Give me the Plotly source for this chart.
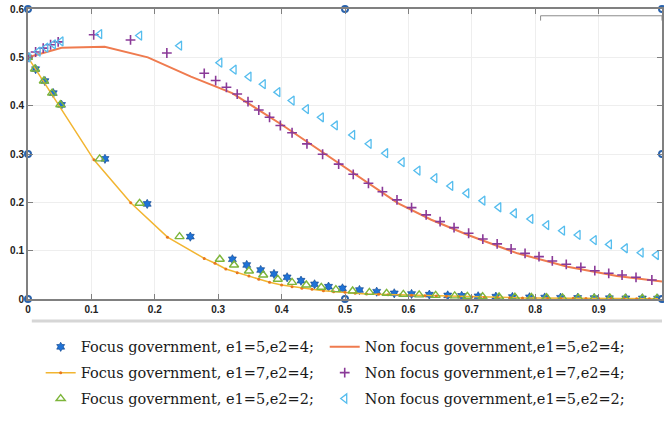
import plotly.graph_objects as go

# ---- data -------------------------------------------------------------
focus_54_x = [0, 0.012, 0.0267, 0.0398, 0.0529, 0.1214, 0.188, 0.256,
              0.3224, 0.345, 0.367, 0.388, 0.4087, 0.4306, 0.452, 0.474, 0.496, 0.5228,
              0.55, 0.5777, 0.605, 0.633, 0.662, 0.684, 0.710, 0.738, 0.764, 0.791,
              0.815, 0.840, 0.867, 0.893, 0.917, 0.943, 0.969, 0.993]
focus_54_y = [0.5, 0.4756, 0.451, 0.426, 0.4017, 0.29, 0.1967, 0.129,
              0.0822, 0.0704, 0.060, 0.0518, 0.0449, 0.0379, 0.0304, 0.0255, 0.022, 0.0186,
              0.0151, 0.0118, 0.0104, 0.0090, 0.0075, 0.0066, 0.0057, 0.0049, 0.0042, 0.0036,
              0.0031, 0.0027, 0.0023, 0.0020, 0.0017, 0.0015, 0.0013, 0.0011]

focus_74_x = [0, 0.104, 0.162, 0.220, 0.278, 0.295, 0.312, 0.330, 0.3485, 0.364,
              0.381, 0.40, 0.4165, 0.432, 0.448, 0.466, 0.482, 0.5, 0.516, 0.534,
              0.553, 0.568, 0.5866, 0.605, 0.626, 0.644, 0.66, 0.68, 0.70, 0.72,
              0.74, 0.76, 0.78, 0.80, 0.82, 0.84, 0.86, 0.88, 0.90, 0.92,
              0.94, 0.96, 0.98, 1.0]
focus_74_y = [0.5, 0.288, 0.199, 0.128, 0.084, 0.0739, 0.062, 0.0545, 0.0476, 0.0407,
              0.0345, 0.029, 0.0255, 0.022, 0.020, 0.0172, 0.0151, 0.0138, 0.0118, 0.0104,
              0.0097, 0.0089, 0.0083, 0.0077, 0.0068, 0.0062, 0.0055, 0.0048, 0.0042, 0.0036,
              0.0031, 0.0027, 0.0023, 0.0020, 0.0017, 0.0015, 0.0013, 0.0011, 0.0009, 0.0008,
              0.0007, 0.0006, 0.0005, 0.0004]

focus_52_x = [0, 0.011, 0.025, 0.038, 0.051, 0.113, 0.176, 0.239,
              0.3025, 0.325, 0.3485, 0.371, 0.394, 0.4165, 0.439, 0.4626, 0.4856, 0.512,
              0.5385, 0.5656, 0.592, 0.617, 0.643, 0.673, 0.693, 0.717, 0.743, 0.768,
              0.794, 0.818, 0.843, 0.868, 0.893, 0.918, 0.942, 0.969, 0.992]
focus_52_y = [0.5, 0.476, 0.451, 0.426, 0.402, 0.29, 0.198, 0.129,
              0.0822, 0.0704, 0.058, 0.0497, 0.0408, 0.0345, 0.029, 0.0242, 0.0195, 0.0166,
              0.0138, 0.0118, 0.0097, 0.0085, 0.0074, 0.0064, 0.0056, 0.0048, 0.0042, 0.0036,
              0.0031, 0.0027, 0.0023, 0.0020, 0.0017, 0.0015, 0.0013, 0.0011, 0.0010]

nonfocus_54_x = [0, 0.053, 0.121, 0.189, 0.257, 0.322, 0.401, 0.479, 0.532,
                 0.584, 0.636, 0.694, 0.772, 0.851, 0.929, 1.0]
nonfocus_54_y = [0.5, 0.5196, 0.522, 0.5, 0.46, 0.426, 0.360, 0.291, 0.243,
                 0.198, 0.164, 0.1325, 0.0945, 0.0669, 0.0476, 0.036]

nonfocus_74_x = [0, 0.012, 0.024, 0.0356, 0.0476, 0.1036, 0.1617, 0.219,
                 0.278, 0.296, 0.313, 0.330, 0.347, 0.364, 0.381, 0.398, 0.4165,
                 0.44, 0.4647, 0.49, 0.513, 0.537, 0.559, 0.582, 0.605,
                 0.628, 0.650, 0.672, 0.695, 0.7174, 0.740, 0.762, 0.784, 0.806, 0.827,
                 0.849, 0.872, 0.894, 0.916, 0.937, 0.959, 0.984]
nonfocus_74_y = [0.5, 0.511, 0.519, 0.526, 0.532, 0.5466, 0.536, 0.509,
                 0.467, 0.452, 0.438, 0.424, 0.4085, 0.391, 0.376, 0.359, 0.344,
                 0.321, 0.2995, 0.279, 0.258, 0.2395, 0.222, 0.205, 0.189,
                 0.174, 0.16, 0.1477, 0.136, 0.124, 0.114, 0.1035, 0.0945, 0.0876, 0.0787,
                 0.0718, 0.0656, 0.0586, 0.0532, 0.0497, 0.0449, 0.0393]

nonfocus_52_x = [0, 0.016, 0.028, 0.040, 0.052, 0.113, 0.176, 0.239,
                 0.3025, 0.325, 0.3485, 0.371, 0.394, 0.4165, 0.439, 0.4626, 0.4846, 0.512,
                 0.538, 0.564, 0.590, 0.615, 0.6416, 0.6667, 0.692, 0.7174, 0.7425, 0.767,
                 0.793, 0.818, 0.843, 0.8676, 0.893, 0.917, 0.942, 0.967, 0.991]
nonfocus_52_y = [0.5, 0.512, 0.52, 0.527, 0.533, 0.548, 0.545, 0.524,
                 0.489, 0.4745, 0.460, 0.4445, 0.428, 0.4106, 0.393, 0.376, 0.359, 0.3395,
                 0.321, 0.3016, 0.283, 0.2657, 0.25, 0.234, 0.2188, 0.2035, 0.1898, 0.1774,
                 0.1656, 0.153, 0.1414, 0.1325, 0.122, 0.113, 0.105, 0.0959, 0.091]

x_ticks = [0, 0.1, 0.2, 0.3, 0.4, 0.5, 0.6, 0.7, 0.8, 0.9]
x_tick_labels = ["0", "0.1", "0.2", "0.3", "0.4", "0.5", "0.6", "0.7", "0.8", "0.9"]
y_ticks = [0, 0.1, 0.2, 0.3, 0.4, 0.5, 0.6]
y_tick_labels = ["0", "0.1", "0.2", "0.3", "0.4", "0.5", "0.6"]

# frame handles sit at the corners / mid-points of the axes box
handle_x = [0, 0.5, 1, 0, 1, 0, 0.5, 1]
handle_y = [0.6, 0.6, 0.6, 0.3, 0.3, 0, 0, 0]

X_RANGE = [0, 1]
Y_RANGE = [0, 0.6]

# ---- figure -----------------------------------------------------------
fig = go.Figure()

# focus-government series -> left legend column
fig.add_trace(go.Scatter(
    x=focus_54_x, y=focus_54_y, mode="markers",
    name="Focus government, e1=5,e2=4;", legend="legend", legendgroup="f1",
    marker=dict(symbol="hexagram", size=7, color="#1f72d6",
                line=dict(color="#0b3f86", width=0.6))))

fig.add_trace(go.Scatter(
    x=focus_74_x, y=focus_74_y, mode="lines+markers",
    name="Focus government, e1=7,e2=4;", legend="legend", legendgroup="f2",
    line=dict(color="#F2B531", width=1.5),
    marker=dict(symbol="circle", size=3, color="#E8761E")))

fig.add_trace(go.Scatter(
    x=focus_52_x, y=focus_52_y, mode="markers",
    name="Focus government, e1=5,e2=2;", legend="legend", legendgroup="f3",
    marker=dict(symbol="triangle-up-open", size=8, color="#7DB53A",
                line=dict(width=1.4))))

# non-focus-government series -> right legend column
fig.add_trace(go.Scatter(
    x=nonfocus_54_x, y=nonfocus_54_y, mode="lines",
    name="Non focus government,e1=5,e2=4;", legend="legend2", legendgroup="n1",
    line=dict(color="#EF7B4F", width=2)))

fig.add_trace(go.Scatter(
    x=nonfocus_74_x, y=nonfocus_74_y, mode="markers",
    name="Non focus government,e1=7,e2=4;", legend="legend2", legendgroup="n2",
    marker=dict(symbol="cross-thin-open", size=7, color="#8A3A98",
                line=dict(color="#8A3A98", width=1.6))))

fig.add_trace(go.Scatter(
    x=nonfocus_52_x, y=nonfocus_52_y, mode="markers",
    name="Non focus government,e1=5,e2=2;", legend="legend2", legendgroup="n3",
    marker=dict(symbol="triangle-left-open", size=8, color="#55BDEE",
                line=dict(width=1.3))))

fig.add_trace(go.Scatter(
    x=handle_x, y=handle_y, mode="markers", showlegend=False, hoverinfo="skip",
    cliponaxis=False,
    marker=dict(symbol="circle", size=6, color="white",
                line=dict(color="#2a63ad", width=2))))

tick_font = dict(family="Liberation Sans, Arial", size=10, color="#222222", weight="bold")
legend_font = dict(family="DejaVu Serif", size=14.5, color="#1a1a1a")

legend_common = dict(
    orientation="v", yanchor="top", xanchor="left", y=-0.11,
    itemwidth=30, tracegroupgap=4, font=legend_font,
    bgcolor="rgba(0,0,0,0)", traceorder="grouped")

fig.update_layout(
    width=664, height=429,
    margin=dict(l=28, r=0, t=9, b=130),
    paper_bgcolor="white", plot_bgcolor="white",
    showlegend=True,
    legend=dict(x=0.02, **legend_common),
    legend2=dict(x=0.468, **legend_common),
    xaxis=dict(
        range=X_RANGE, tickvals=x_ticks, ticktext=x_tick_labels,
        showgrid=True, gridcolor="#eeeeee", gridwidth=1, zeroline=False,
        showline=True, linecolor="#808080", linewidth=2, mirror="ticks",
        ticks="inside", ticklen=5, tickcolor="#808080", tickwidth=1,
        tickfont=tick_font),
    yaxis=dict(
        range=Y_RANGE, tickvals=y_ticks, ticktext=y_tick_labels,
        showgrid=True, gridcolor="#eeeeee", gridwidth=1, zeroline=False,
        showline=True, linecolor="#808080", linewidth=2, mirror="ticks",
        ticks="inside", ticklen=5, tickcolor="#808080", tickwidth=1,
        tickfont=tick_font),
    shapes=[
        # lower border of the figure frame
        dict(type="line", xref="paper", yref="paper", x0=0.006, x1=1.0,
             y0=-0.076, y1=-0.076, line=dict(color="#d6d6d6", width=3)),
        # small inset legend bracket in the upper right corner
        dict(type="path", xref="x", yref="y",
             path="M 0.8085 0.576 L 0.8085 0.586 L 1.0 0.586 L 1.0 0.576",
             line=dict(color="#8c8c8c", width=1)),
    ],
)

fig.write_html("out.html")
